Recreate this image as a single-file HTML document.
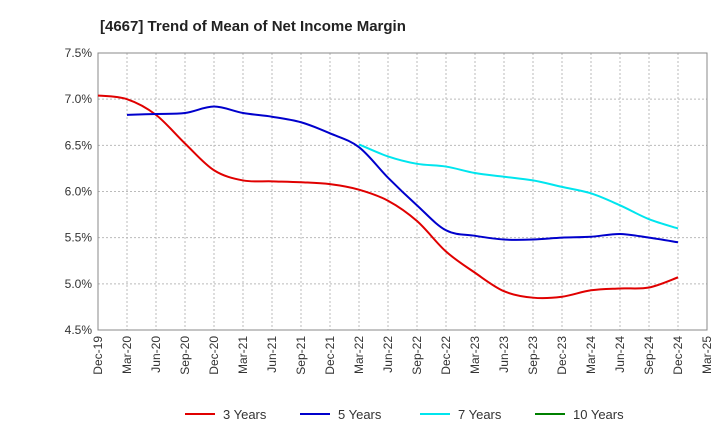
<!DOCTYPE html>
<html><head><meta charset="utf-8"><style>
body{margin:0;background:#fff;font-family:"Liberation Sans",Arial,sans-serif}
svg text{font-family:"Liberation Sans",Arial,sans-serif}
</style></head><body>
<svg id="c" width="720" height="440">
<text x="100" y="31" font-size="15" font-weight="bold" fill="#222">[4667]  Trend of Mean of Net Income Margin</text>
<g id="grid"></g><g id="axes"></g><g id="lines"></g><g id="legend"></g>
</svg>
<script>
const xLabels=["Dec-19","Mar-20","Jun-20","Sep-20","Dec-20","Mar-21","Jun-21","Sep-21","Dec-21","Mar-22","Jun-22","Sep-22","Dec-22","Mar-23","Jun-23","Sep-23","Dec-23","Mar-24","Jun-24","Sep-24","Dec-24","Mar-25"];
const yTicks=[4.5,5.0,5.5,6.0,6.5,7.0,7.5];
const s3=[7.04,7.00,6.83,6.52,6.23,6.12,6.11,6.10,6.08,6.02,5.90,5.68,5.35,5.12,4.92,4.85,4.86,4.93,4.95,4.96,5.07];
const s5=[null,6.83,6.84,6.85,6.92,6.85,6.81,6.75,6.63,6.48,6.15,5.85,5.58,5.52,5.48,5.48,5.50,5.51,5.54,5.50,5.45];
const s7=[null,null,null,null,null,null,null,null,null,6.51,6.38,6.30,6.27,6.20,6.16,6.12,6.05,5.98,5.85,5.70,5.60];
const s10=[];
const X0=98,X1=707,Y0=330,Y1=53;
const xs=i=>X0+(X1-X0)*i/(xLabels.length-1);
const ys=v=>Y0-(v-4.5)/3*(Y0-Y1);
const NS="http://www.w3.org/2000/svg";
function mk(p,t,a){const e=document.createElementNS(NS,t);for(const k in a)e.setAttribute(k,a[k]);p.appendChild(e);return e;}
const grid=document.getElementById('grid'),axes=document.getElementById('axes'),lines=document.getElementById('lines'),leg=document.getElementById('legend');
yTicks.forEach(v=>{const l=mk(grid,'line',{x1:X0,x2:X1,y1:ys(v),y2:ys(v),stroke:'#bbb','stroke-dasharray':'2,2'});

const t=mk(axes,'text',{x:X0-6,y:ys(v)+4,'text-anchor':'end','font-size':12,fill:'#333'});t.textContent=v.toFixed(1)+'%';
});
xLabels.forEach((lb,i)=>{const x=xs(i);
if(i>0&&i<xLabels.length-1){const g=mk(grid,'line',{x1:x,x2:x,y1:Y1,y2:Y0,stroke:'#bbb','stroke-dasharray':'2,2'});}
const t=mk(axes,'text',{transform:`translate(${x+4},${Y0+6}) rotate(-90)`,'text-anchor':'end','font-size':12,fill:'#333'});t.textContent=lb;
});
const fr=mk(axes,'rect',{x:X0,y:Y1,width:X1-X0,height:Y0-Y1,fill:'none',stroke:'#888'});

function path(arr){const p=[];arr.forEach((v,i)=>{if(v!=null)p.push([xs(i),ys(v)]);});if(p.length<2)return '';
let d=`M${p[0][0]},${p[0][1]}`;for(let i=0;i<p.length-1;i++){const a=p[i-1]||p[i],b=p[i],c=p[i+1],e=p[i+2]||c;
d+=`C${b[0]+(c[0]-a[0])/6},${b[1]+(c[1]-a[1])/6} ${c[0]-(e[0]-b[0])/6},${c[1]-(e[1]-b[1])/6} ${c[0]},${c[1]}`;}return d;}
const series=[["3 Years",s3,"#e00000",185],["5 Years",s5,"#0000cc",300],["7 Years",s7,"#00e5ee",420],["10 Years",s10,"#008000",535]];
series.forEach(([n,arr,col,lx])=>{const d=path(arr);if(d){const e=mk(lines,'path',{d,fill:'none',stroke:col,'stroke-width':2});
}
const l=mk(leg,'line',{x1:lx,x2:lx+30,y1:414,y2:414,stroke:col,'stroke-width':2});
const t=mk(leg,'text',{x:lx+38,y:419,'font-size':13,fill:'#333'});t.textContent=n;});
</script>
</body></html>
